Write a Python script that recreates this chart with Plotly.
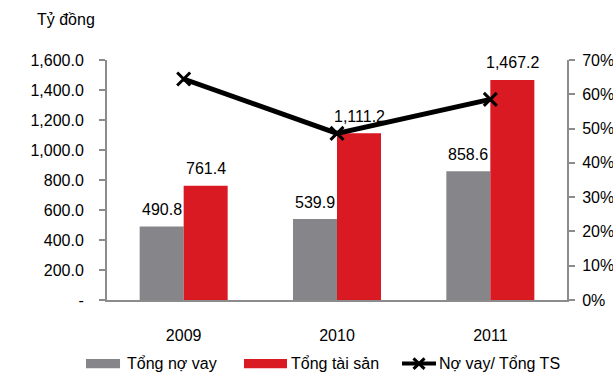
import plotly.graph_objects as go

# Data (tỷ đồng)
years = ["2009", "2010", "2011"]
tong_no_vay = [490.8, 539.9, 858.6]
tong_tai_san = [761.4, 1111.2, 1467.2]
ty_le = [round(a / b, 4) for a, b in zip(tong_no_vay, tong_tai_san)]

left_tickvals = [0, 200, 400, 600, 800, 1000, 1200, 1400, 1600]
left_ticktext = ["-", "200.0", "400.0", "600.0", "800.0", "1,000.0", "1,200.0", "1,400.0", "1,600.0"]
right_tickvals = [0, 0.1, 0.2, 0.3, 0.4, 0.5, 0.6, 0.7]
right_ticktext = ["0%", "10%", "20%", "30%", "40%", "50%", "60%", "70%"]

series_names = ["Tổng nợ vay", "Tổng tài sản", "Nợ vay/ Tổng TS"]

GRAY = "#86868a"
RED = "#d91a22"
AXIS = "#8c8c8c"
FONT = "Liberation Sans, Arial, sans-serif"
FS = 16
BAR_PX = 44  # rendered width of one bar in the group

fig = go.Figure()

fig.add_trace(go.Bar(
    x=years, y=tong_no_vay, name=series_names[0],
    marker=dict(color=GRAY, line=dict(width=0)),
))
fig.add_trace(go.Bar(
    x=years, y=tong_tai_san, name=series_names[1],
    marker=dict(color=RED, line=dict(width=0)),
))
fig.add_trace(go.Scatter(
    x=years, y=ty_le, name=series_names[2], yaxis="y2",
    mode="lines+markers",
    line=dict(color="black", width=5),
    marker=dict(symbol="x-thin", size=13, line=dict(color="black", width=3)),
    cliponaxis=False,
))

annotations = []

# Value labels above each bar (category axis positions are serial indices)
for values, shift in ((tong_no_vay, -BAR_PX / 2), (tong_tai_san, BAR_PX / 2)):
    for i, v in enumerate(values):
        annotations.append(dict(
            x=i, y=v, xref="x", yref="y", xshift=shift, yshift=17,
            xanchor="center", yanchor="middle", showarrow=False,
            text=f"{v:,.1f}", font=dict(size=FS, color="black", family=FONT),
        ))

# Legend drawn as wide swatches below the axis
legend_y = -0.265
shapes = []
items = [
    ("bar", GRAY, -0.0457, 0.0283, series_names[0], 0.0391),
    ("bar", RED, 0.2978, 0.3913, series_names[1], 0.3957),
    ("line", "black", 0.6413, 0.7152, series_names[2], 0.7174),
]
for kind, color, x0, x1, label, tx in items:
    if kind == "bar":
        shapes.append(dict(type="rect", xref="paper", yref="paper",
                           x0=x0, x1=x1, y0=legend_y - 0.019, y1=legend_y + 0.019,
                           fillcolor=color, line=dict(width=0)))
    else:
        shapes.append(dict(type="line", xref="paper", yref="paper",
                           x0=x0, x1=x1, y0=legend_y, y1=legend_y,
                           line=dict(color=color, width=4)))
        xm = (x0 + x1) / 2
        for dy in (1, -1):
            shapes.append(dict(type="line", xref="paper", yref="paper",
                               x0=xm - 0.012, x1=xm + 0.012,
                               y0=legend_y - 0.022 * dy, y1=legend_y + 0.022 * dy,
                               line=dict(color=color, width=3)))
    annotations.append(dict(xref="paper", yref="paper", x=tx, y=legend_y,
                            xanchor="left", yanchor="middle", showarrow=False,
                            text=label, font=dict(size=FS, color="black", family=FONT)))

annotations.append(dict(xref="paper", yref="paper", x=-0.157, y=1.167,
                        xanchor="left", yanchor="middle", showarrow=False,
                        text="Tỷ đồng", font=dict(size=FS, color="black", family=FONT)))

fig.update_layout(
    width=613, height=383,
    margin=dict(l=107, r=46, t=60, b=83, pad=0, autoexpand=False),
    paper_bgcolor="white", plot_bgcolor="white",
    font=dict(family=FONT, size=FS, color="black"),
    barmode="group", bargap=0.426, bargroupgap=0,
    showlegend=False,
    xaxis=dict(
        type="category", range=[-0.5, 2.5], automargin=False,
        showline=True, linecolor=AXIS, linewidth=2,
        ticks="", showgrid=False, zeroline=False,
        ticklabelstandoff=20,
    ),
    yaxis=dict(
        range=[0, 1600], tickvals=left_tickvals, ticktext=left_ticktext,
        automargin=False,
        showline=True, linecolor=AXIS, linewidth=2,
        ticks="outside", ticklen=6, tickwidth=2, tickcolor=AXIS,
        showgrid=False, zeroline=False, ticklabelstandoff=12,
    ),
    yaxis2=dict(
        range=[0, 0.7], tickvals=right_tickvals, ticktext=right_ticktext,
        overlaying="y", side="right", anchor="x", automargin=False,
        showline=True, linecolor=AXIS, linewidth=2,
        ticks="outside", ticklen=6, tickwidth=2, tickcolor=AXIS,
        showgrid=False, zeroline=False, ticklabelstandoff=4,
    ),
    shapes=shapes,
    annotations=annotations,
)

fig.write_html("out.html")
